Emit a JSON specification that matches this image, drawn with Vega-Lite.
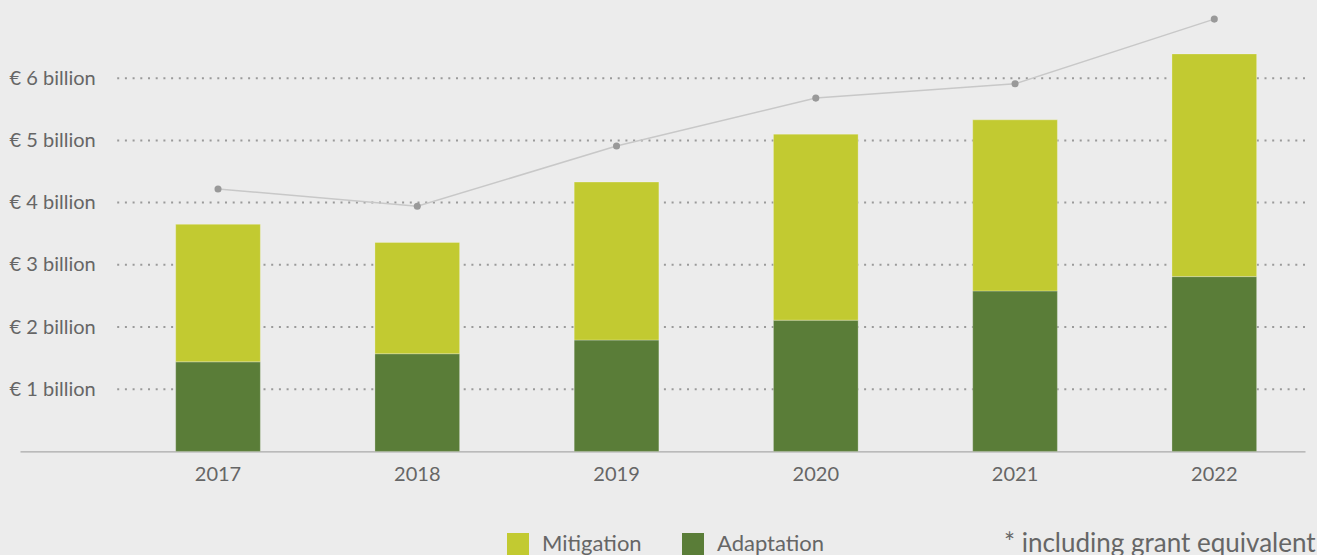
{
  "$schema": "https://vega.github.io/schema/vega-lite/v6.json",
  "autosize": {"type": "none"},
  "width": 1193,
  "height": 435.4,
  "padding": {"left": 112, "top": 16, "right": 12, "bottom": 103.6},
  "background": "#ececec",
  "config": {
    "font": "Lato",
    "view": {"stroke": null},
    "axis": {"labelFont": "Lato", "labelColor": "#666666", "titleFont": "Lato"},
    "legend": {"labelFont": "Lato"}
  },
  "title": {
    "text": "* including grant equivalent",
    "orient": "bottom",
    "anchor": "start",
    "align": "left",
    "dx": 995,
    "dy": -44,
    "offset": 20,
    "fontSize": 26,
    "fontWeight": "normal",
    "color": "#666666",
    "font": "Lato"
  },
  "datasets": {
    "bars": [
      {"year": "2017", "type": "Adaptation", "value": 1.44},
      {"year": "2017", "type": "Mitigation", "value": 2.21},
      {"year": "2018", "type": "Adaptation", "value": 1.57},
      {"year": "2018", "type": "Mitigation", "value": 1.79},
      {"year": "2019", "type": "Adaptation", "value": 1.79},
      {"year": "2019", "type": "Mitigation", "value": 2.54},
      {"year": "2020", "type": "Adaptation", "value": 2.11},
      {"year": "2020", "type": "Mitigation", "value": 2.99},
      {"year": "2021", "type": "Adaptation", "value": 2.58},
      {"year": "2021", "type": "Mitigation", "value": 2.75},
      {"year": "2022", "type": "Adaptation", "value": 2.81},
      {"year": "2022", "type": "Mitigation", "value": 3.58}
    ],
    "line": [
      {"year": "2017", "total": 4.22},
      {"year": "2018", "total": 3.94},
      {"year": "2019", "total": 4.91},
      {"year": "2020", "total": 5.68},
      {"year": "2021", "total": 5.91},
      {"year": "2022", "total": 6.95}
    ],
    "grid": [
      {"level": 1}, {"level": 2}, {"level": 3}, {"level": 4}, {"level": 5}, {"level": 6}
    ]
  },
  "layer": [
    {
      "data": {"name": "grid"},
      "mark": {"type": "rule", "color": "#9a9a9a", "strokeWidth": 2, "strokeDash": [2, 5.7]},
      "encoding": {
        "y": {"field": "level", "type": "quantitative"}
      }
    },
    {
      "data": {"name": "bars"},
      "mark": {"type": "bar", "stroke": "#ffffff", "strokeOpacity": 0.25, "strokeWidth": 1},
      "encoding": {
        "x": {
          "field": "year",
          "type": "ordinal",
          "scale": {"range": [-92, 1193], "paddingInner": 0.575, "paddingOuter": 0.512, "align": 0.763},
          "axis": {
            "title": null,
            "labelAngle": 0,
            "labelFontSize": 20,
            "labelPadding": 13,
            "ticks": false,
            "tickSize": 0,
            "domainColor": "#999999",
            "domainWidth": 1
          }
        },
        "y": {
          "field": "value",
          "type": "quantitative",
          "stack": "zero",
          "scale": {"domain": [0, 7], "nice": false, "zero": true},
          "axis": {
            "title": null,
            "values": [1, 2, 3, 4, 5, 6],
            "labelExpr": "'€ ' + datum.value + ' billion'",
            "labelAlign": "left",
            "labelPadding": 103,
            "labelFontSize": 20,
            "ticks": false,
            "tickSize": 0,
            "domain": false,
            "grid": false
          }
        },
        "color": {
          "field": "type",
          "type": "nominal",
          "scale": {"domain": ["Mitigation", "Adaptation"], "range": ["#c2ca31", "#5a7d38"]},
          "legend": {
            "title": null,
            "orient": "none",
            "direction": "horizontal",
            "legendX": 395,
            "legendY": 517,
            "symbolType": "square",
            "symbolSize": 484,
            "symbolStrokeWidth": 0,
            "symbolOpacity": 1,
            "labelFontSize": 22,
            "labelColor": "#666666",
            "labelOffset": 13,
            "columnPadding": 40
          }
        },
        "order": {"field": "type", "sort": "ascending"}
      }
    },
    {
      "data": {"name": "line"},
      "mark": {"type": "line", "color": "#c8c8c8", "strokeWidth": 1.5},
      "encoding": {
        "x": {"field": "year", "type": "ordinal"},
        "y": {"field": "total", "type": "quantitative"}
      }
    },
    {
      "data": {"name": "line"},
      "mark": {"type": "point", "filled": true, "color": "#999999", "size": 50, "opacity": 1},
      "encoding": {
        "x": {"field": "year", "type": "ordinal"},
        "y": {"field": "total", "type": "quantitative"}
      }
    }
  ]
}
